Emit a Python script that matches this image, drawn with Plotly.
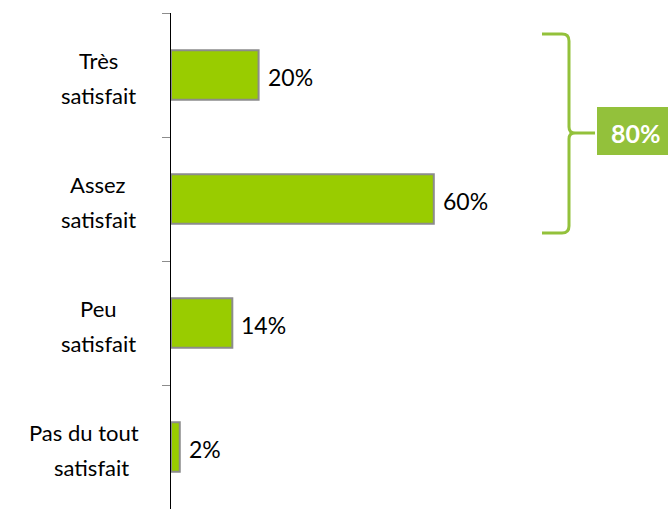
import plotly.graph_objects as go

# Survey data
categories = ["Très satisfait", "Assez satisfait", "Peu satisfait", "Pas du tout satisfait"]
label_lines = [("Très", "satisfait"), ("Assez", "satisfait"), ("Peu", "satisfait"), ("Pas du tout", "satisfait")]
values = [20, 60, 14, 2]

W, H = 668, 509
L, T = 171, 13
PLOT_W, PLOT_H = W - L, H - T
PX_PER_PCT = 4.38

BAR_GREEN = "#99CC00"
BAR_EDGE = "#8C8C8C"
ACCENT = "#93C13B"
FONT = "Lato"


def px(x):
    return (x - L) / PLOT_W


def py(y):
    return (H - y) / PLOT_H


fig = go.Figure(
    go.Bar(
        x=values,
        y=categories,
        orientation="h",
        marker=dict(color=BAR_GREEN, line=dict(color=BAR_EDGE, width=2)),
        hoverinfo="skip",
    )
)

annotations = []
# Two-line category labels, centred
line_centres = [(98, 98), (98, 98), (98, 98), (84, 91)]
for cat, (l1, l2), (c1, c2) in zip(categories, label_lines, line_centres):
    annotations.append(dict(x=px(c1), xref="paper", y=cat, yref="y", text=l1, showarrow=False,
                            xanchor="center", yanchor="middle", yshift=15,
                            font=dict(family=FONT, size=22, color="#000000")))
    annotations.append(dict(x=px(c2), xref="paper", y=cat, yref="y", text=l2, showarrow=False,
                            xanchor="center", yanchor="middle", yshift=-20,
                            font=dict(family=FONT, size=22, color="#000000")))

# Value labels at the end of each bar
for cat, v in zip(categories, values):
    annotations.append(dict(x=v, xref="x", y=cat, yref="y", text=f"{v}%", showarrow=False,
                            xanchor="left", yanchor="middle", xshift=7, yshift=-2,
                            font=dict(family=FONT, size=23, color="#000000")))

# Total of the two satisfied groups
total = values[0] + values[1]
annotations.append(dict(x=px(636), xref="paper", y=py(133), yref="paper", text=f"<b>{total}%</b>",
                        showarrow=False, xanchor="center", yanchor="middle",
                        font=dict(family=FONT, size=25, color="#FFFFFF")))


def brace_path(pts):
    out = []
    for cmd, coords in pts:
        out.append(cmd + " ".join(f"{px(a):.5f},{py(b):.5f}" for a, b in coords))
    return " ".join(out)


brace = brace_path([
    ("M", [(542, 34)]),
    ("L", [(562, 34)]),
    ("Q", [(569, 34), (569, 41)]),
    ("L", [(569, 127)]),
    ("Q", [(569, 133), (575, 133)]),
    ("L", [(595, 133)]),
    ("M", [(575, 133)]),
    ("Q", [(569, 133), (569, 139)]),
    ("L", [(569, 226)]),
    ("Q", [(569, 233), (562, 233)]),
    ("L", [(542, 233)]),
])

shapes = [
    dict(type="path", xref="paper", yref="paper", path=brace,
         line=dict(color=ACCENT, width=3), fillcolor="rgba(0,0,0,0)"),
    dict(type="rect", xref="paper", yref="paper", x0=px(597), x1=px(672), y0=py(155), y1=py(107),
         line=dict(width=0), fillcolor=ACCENT),
]

fig.update_layout(
    width=W, height=H,
    margin=dict(l=L, r=0, t=T, b=0),
    paper_bgcolor="white", plot_bgcolor="white",
    bargap=0.6,
    showlegend=False,
    annotations=annotations,
    shapes=shapes,
    xaxis=dict(range=[0, PLOT_W / PX_PER_PCT], visible=False, fixedrange=True),
    yaxis=dict(type="category", categoryorder="array", categoryarray=categories,
               range=[len(categories) - 0.5, -0.5],
               showline=True, linecolor="#000000", linewidth=1,
               ticks="outside", tickson="boundaries", ticklen=8, tickcolor="#8C8C8C", tickwidth=1,
               showticklabels=False, showgrid=False, zeroline=False, fixedrange=True),
)

fig.write_html("out.html")
